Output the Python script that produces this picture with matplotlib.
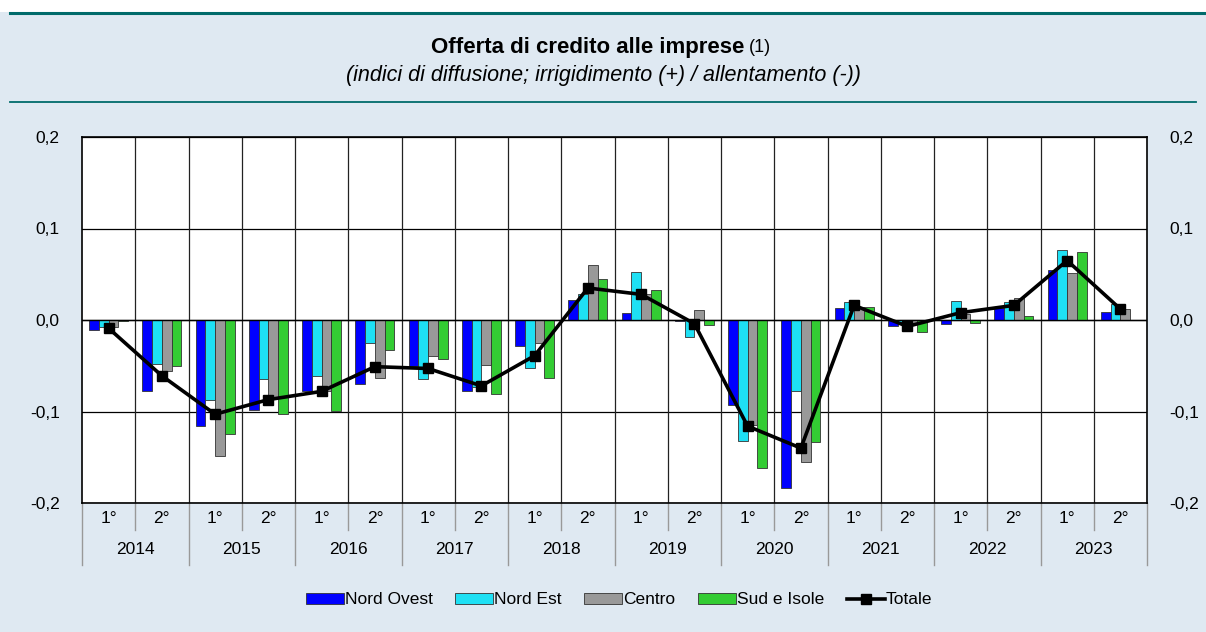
import matplotlib.pyplot as plt
import numpy as np
from matplotlib.patches import Patch
from matplotlib.lines import Line2D
from matplotlib.transforms import blended_transform_factory

plt.rcParams['font.family'] = ['Liberation Sans', 'DejaVu Sans']

years = ['2014', '2015', '2016', '2017', '2018', '2019', '2020', '2021', '2022', '2023']
halves = ['1°', '2°'] * len(years)

nord_ovest = [-0.011, -0.078, -0.116, -0.098, -0.078, -0.070, -0.050, -0.078, -0.028, 0.022,
              0.008, -0.001, -0.093, -0.184, 0.013, -0.007, -0.004, 0.013, 0.055, 0.009]
nord_est = [-0.008, -0.048, -0.087, -0.065, -0.061, -0.025, -0.064, -0.073, -0.053, 0.028,
            0.053, -0.019, -0.132, -0.078, 0.020, -0.002, 0.021, 0.020, 0.076, 0.018]
centro = [-0.008, -0.056, -0.149, -0.085, -0.078, -0.063, -0.039, -0.049, -0.025, 0.060,
          0.028, 0.011, -0.115, -0.155, 0.014, -0.003, 0.007, 0.024, 0.051, 0.012]
sud_isole = [-0.001, -0.050, -0.125, -0.103, -0.099, -0.033, -0.043, -0.081, -0.063, 0.045,
             0.033, -0.005, -0.162, -0.133, 0.014, -0.013, -0.003, 0.004, 0.074, 0.000]
totale = [-0.009, -0.061, -0.103, -0.087, -0.078, -0.051, -0.053, -0.072, -0.039, 0.035,
          0.028, -0.004, -0.116, -0.140, 0.016, -0.007, 0.008, 0.016, 0.065, 0.012]

series = [('Nord Ovest', nord_ovest, '#0000ff'),
          ('Nord Est', nord_est, '#1ee0f4'),
          ('Centro', centro, '#999999'),
          ('Sud e Isole', sud_isole, '#33cc33')]

bg = '#dfe9f2'
teal = '#006b6b'
W, H = 1206, 632
fig = plt.figure(figsize=(W / 100, H / 100), dpi=100)
fig.patch.set_facecolor(bg)

# white strip at top and teal lines
fig.add_artist(plt.Rectangle((0, 1 - 12 / H), 1, 12 / H, transform=fig.transFigure,
                             facecolor='white', edgecolor='none'))
fig.add_artist(Line2D([10 / W, 1], [1 - 12.5 / H] * 2, transform=fig.transFigure,
                      color=teal, lw=2.2))
fig.add_artist(Line2D([10 / W, 1196 / W], [1 - 102 / H] * 2, transform=fig.transFigure,
                      color=teal, lw=1.3))
fig.text(1167 / W, 1 + 6 / H, 'g', color=teal, fontsize=13, fontweight='bold',
         ha='right', va='baseline')

# title: bold part + regular "(1)", centred together
ty = 1 - 48 / H
t1 = fig.text(0, ty, 'Offerta di credito alle imprese', ha='left', va='center',
              fontsize=16, fontweight='bold')
t2 = fig.text(0, ty, '(1)', ha='left', va='center', fontsize=13)
fig.canvas.draw()
w1 = t1.get_window_extent().width
w2 = t2.get_window_extent().width
gap = 5
left = 601 - (w1 + gap + w2) / 2
t1.set_x(left / W)
t2.set_x((left + w1 + gap) / W)
fig.text(0.5, 1 - 75 / H, '(indici di diffusione; irrigidimento (+) / allentamento (-))',
         ha='center', va='center', fontsize=15.5, style='italic')

x0, x1, y0, y1 = 82, 1147, 137, 503
ax = fig.add_axes([x0 / W, 1 - y1 / H, (x1 - x0) / W, (y1 - y0) / H])
ax.set_facecolor('white')

n = len(totale)
x = np.arange(n)
bw = 0.184
for i, (name, vals, col) in enumerate(series):
    ax.bar(x + (i - 1.5) * bw, vals, width=bw, color=col, edgecolor='#333333',
           linewidth=0.6, label=name, zorder=3)
ax.plot(x, totale, color='black', lw=2.6, marker='s', markersize=6.5, zorder=4,
        label='Totale')

ax.set_xlim(-0.5, n - 0.5)
ax.set_ylim(-0.2, 0.2)
yt = [-0.2, -0.1, 0.0, 0.1, 0.2]
ax.set_yticks(yt)
ax.set_yticklabels([f'{v:.1f}'.replace('.', ',') for v in yt])
ax.tick_params(axis='y', length=0, pad=16, labelsize=12.5, labelright=True)
for v in yt:
    ax.axhline(v, color='black', lw=0.9, zorder=1)
ax.axhline(0, color='black', lw=1.0, zorder=3.5)
for k in range(n - 1):
    ax.axvline(k + 0.5, color='#222222', lw=0.9, zorder=1)
for s in ax.spines.values():
    s.set_color('black')
    s.set_linewidth(1.2)

ax.set_xticks(x)
ax.set_xticklabels(halves)
ax.tick_params(axis='x', length=0, pad=6, labelsize=12.5)

tr = blended_transform_factory(ax.transData, ax.transAxes)
for k in range(n + 1):
    yb = -0.17 if k % 2 == 0 else -0.074
    ax.plot([k - 0.5, k - 0.5], [0, yb], transform=tr, color='#999999', lw=1,
            clip_on=False)
for j, yr in enumerate(years):
    ax.text(2 * j + 0.5, -0.126, yr, transform=tr, ha='center', va='center', fontsize=12.5)

handles = [Patch(facecolor=c, edgecolor='#333333', linewidth=0.6) for _, _, c in series]
handles.append(Line2D([], [], color='black', lw=2.6, marker='s', markersize=6.5))
labels = [s[0] for s in series] + ['Totale']
fig.legend(handles, labels, loc='center', bbox_to_anchor=(619 / W, 1 - 600 / H),
           ncol=5, frameon=False, fontsize=12.5, handlelength=2.2, handleheight=0.55,
           handletextpad=0.05, columnspacing=1.3)

fig.savefig('out.png', dpi=100, facecolor=bg)
